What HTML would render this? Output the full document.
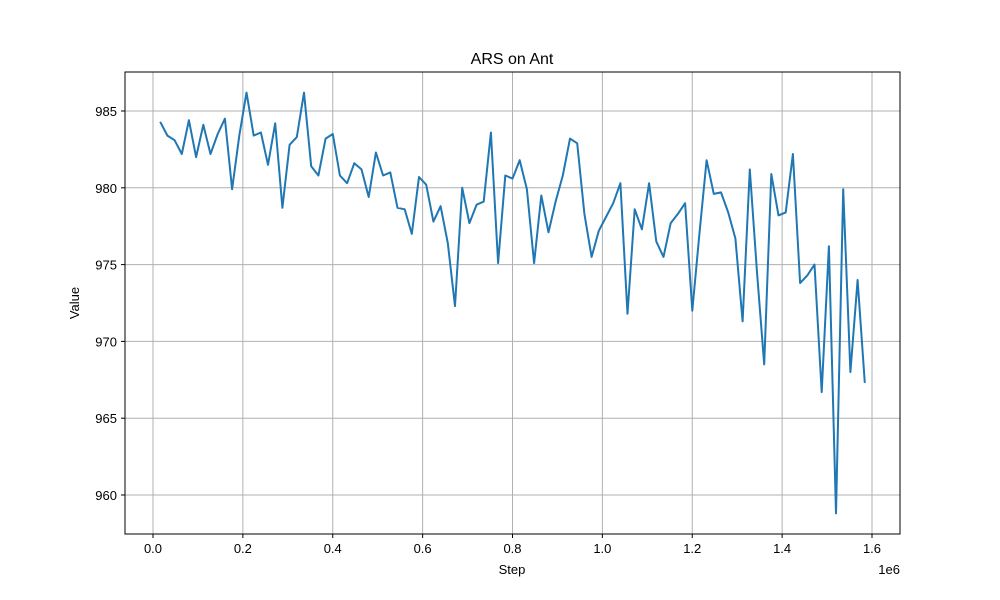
<!DOCTYPE html>
<html><head><meta charset="utf-8"><style>
body{margin:0;background:#fff}
svg{display:block;font-family:"Liberation Sans","DejaVu Sans",sans-serif}
</style></head><body>
<svg id="chart" width="1000" height="600">
<rect width="1000" height="600" fill="#fff"/>
<g id="grid"></g>
<g id="ticks"></g>
<path id="line" fill="none" stroke="#1f77b4" stroke-width="2" stroke-linejoin="round"/>
<rect x="125" y="72" width="775" height="462" fill="none" stroke="#000" stroke-width="1"/>
<text x="512" y="64" text-anchor="middle" font-size="16">ARS on Ant</text>
<text x="512" y="574" text-anchor="middle" font-size="13">Step</text>
<text x="79" y="303" text-anchor="middle" font-size="13" transform="rotate(-90 79 303)">Value</text>
<text x="900" y="574" text-anchor="end" font-size="13">1e6</text>
</svg>
<script>
const values=[984.3,983.4,983.1,982.2,984.4,982.0,984.1,982.2,983.5,984.5,979.9,983.4,986.2,983.4,983.6,981.5,984.2,978.7,982.8,983.3,986.2,981.4,980.8,983.2,983.5,980.8,980.3,981.6,981.2,979.4,982.3,980.8,981.0,978.7,978.6,977.0,980.7,980.2,977.8,978.8,976.4,972.3,980.0,977.7,978.9,979.1,983.6,975.1,980.8,980.6,981.8,979.9,975.1,979.5,977.1,979.1,980.8,983.2,982.9,978.3,975.5,977.2,978.1,979.0,980.3,971.8,978.6,977.3,980.3,976.5,975.5,977.7,978.3,979.0,972.0,977.0,981.8,979.6,979.7,978.4,976.7,971.3,981.2,974.5,968.5,980.9,978.2,978.4,982.2,973.8,974.3,975.0,966.7,976.2,958.8,979.9,968.0,974.0,967.3];
const steps=values.map((v,i)=>16000*(i+1));
const xTicks=[0,0.2,0.4,0.6,0.8,1.0,1.2,1.4,1.6];
const yTicks=[960,965,970,975,980,985];
const NS="http://www.w3.org/2000/svg";
const sx=s=>153+(s/1e6)*449.375;
const sy=v=>111+(985-v)*15.36;
const grid=document.getElementById('grid'),ticks=document.getElementById('ticks');
function mk(tag,attrs,parent){const e=document.createElementNS(NS,tag);for(const k in attrs)e.setAttribute(k,attrs[k]);parent.appendChild(e);return e;}
xTicks.forEach(t=>{const x=sx(t*1e6);
 const g=mk('line',{x1:x,x2:x,y1:72,y2:534,stroke:'#b0b0b0','stroke-width':1},grid);
 
 
 mk('line',{x1:x,x2:x,y1:534,y2:538,stroke:'#000'},ticks);
 const l=mk('text',{x:x,y:553,'text-anchor':'middle','font-size':13},ticks);l.textContent=t.toFixed(1);
 
 });
yTicks.forEach(t=>{const y=sy(t);
 const g=mk('line',{x1:125,x2:900,y1:y,y2:y,stroke:'#b0b0b0','stroke-width':1},grid);
 
 
 mk('line',{x1:121,x2:125,y1:y,y2:y,stroke:'#000'},ticks);
 const l=mk('text',{x:117,y:y+5,'text-anchor':'end','font-size':13},ticks);l.textContent=t;
 
 });
document.getElementById('line').setAttribute('d',values.map((v,i)=>(i?'L':'M')+sx(steps[i]).toFixed(1)+','+sy(v).toFixed(1)).join(''));
</script>
</body></html>
